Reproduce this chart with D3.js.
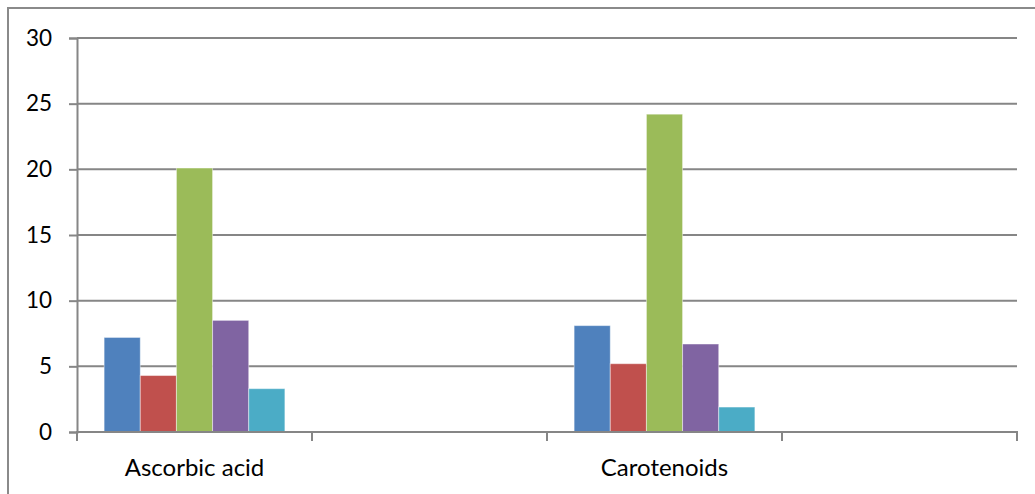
<!DOCTYPE html>
<html>
<head>
<meta charset="utf-8">
<script src="https://cdn.jsdelivr.net/npm/d3@7"></script>
<style>
  html, body { margin: 0; padding: 0; background: #fff; }
  svg { display: block; }
  text { font-family: Lato, "Open Sans", sans-serif; fill: #000; }
</style>
</head>
<body>
<svg id="chart" width="1035" height="494"></svg>
<script>
// Category slots on the horizontal axis (two are unlabeled)
const categories = ["Ascorbic acid", "", "Carotenoids", ""];

// Five series, one value per category slot (null = no bar)
const series1 = [7.2, null, 8.1, null];
const series2 = [4.3, null, 5.2, null];
const series3 = [20.1, null, 24.2, null];
const series4 = [8.5, null, 6.7, null];
const series5 = [3.3, null, 1.9, null];

const seriesColors = ["#4F81BD", "#C0504D", "#9BBB59", "#8064A2", "#4BACC6"];
const yTicks = [0, 5, 10, 15, 20, 25, 30];

const allSeries = [series1, series2, series3, series4, series5];

const svg = d3.select("#chart");
const plot = { left: 77, right: 1017, top: 38, bottom: 432 };
const gridColor = "#868686";

// Outer chart frame
svg.append("rect")
  .attr("x", 8).attr("y", 8)
  .attr("width", 1100).attr("height", 600)
  .attr("fill", "none")
  .attr("stroke", "#8a8a8a")
  .attr("stroke-width", 2);

const x0 = d3.scaleBand()
  .domain(d3.range(categories.length))
  .range([plot.left, plot.right])
  .paddingInner(0).paddingOuter(0);

// Gap width of 150% of a bar: 0.75 bar on each side
const x1 = d3.scaleBand()
  .domain(d3.range(allSeries.length))
  .range([0, x0.bandwidth()])
  .paddingInner(0).paddingOuter(0.75);

const y = d3.scaleLinear().domain([0, 30]).range([plot.bottom, plot.top]);

// Horizontal gridlines
svg.append("g")
  .selectAll("line")
  .data(yTicks.filter(t => t > 0))
  .join("line")
  .attr("x1", plot.left).attr("x2", plot.right)
  .attr("y1", d => y(d)).attr("y2", d => y(d))
  .attr("stroke", gridColor)
  .attr("stroke-width", 2);

// Bars
const bars = [];
allSeries.forEach((s, si) => {
  s.forEach((v, ci) => {
    if (v != null) bars.push({ si, ci, v });
  });
});
svg.append("g")
  .selectAll("rect")
  .data(bars)
  .join("rect")
  .attr("x", d => x0(d.ci) + x1(d.si))
  .attr("width", x1.bandwidth())
  .attr("y", d => y(d.v))
  .attr("height", d => y(0) - y(d.v))
  .attr("fill", d => seriesColors[d.si])
  .attr("stroke", "rgba(255,255,255,0.45)")
  .attr("stroke-width", 1);

// Y axis
const yAxis = d3.axisLeft(y)
  .tickValues(yTicks)
  .tickSize(8)
  .tickPadding(17)
  .tickFormat(d3.format("d"));
const gy = svg.append("g")
  .attr("transform", `translate(${plot.left},0)`)
  .call(yAxis);
gy.select(".domain").attr("stroke", gridColor).attr("stroke-width", 2);
gy.selectAll(".tick line").attr("stroke", gridColor).attr("stroke-width", 2);
gy.selectAll(".tick text")
  .attr("font-size", 22.5)
  .attr("font-family", "Lato, sans-serif")
  .attr("fill", "#000");

// X axis: tick marks at category boundaries
const boundaries = d3.range(categories.length + 1).map(i =>
  i < categories.length ? x0(i) : plot.right);
const gx = svg.append("g");
gx.append("line")
  .attr("x1", plot.left - 1).attr("x2", plot.right + 1)
  .attr("y1", plot.bottom).attr("y2", plot.bottom)
  .attr("stroke", gridColor).attr("stroke-width", 2);
gx.selectAll("line.tk")
  .data(boundaries)
  .join("line")
  .attr("class", "tk")
  .attr("x1", d => d).attr("x2", d => d)
  .attr("y1", plot.bottom).attr("y2", plot.bottom + 9)
  .attr("stroke", gridColor).attr("stroke-width", 2);
gx.selectAll("text")
  .data(categories)
  .join("text")
  .attr("x", (d, i) => x0(i) + x0.bandwidth() / 2)
  .attr("y", 476)
  .attr("text-anchor", "middle")
  .attr("font-size", 24)
  .text(d => d);
</script>
</body>
</html>
